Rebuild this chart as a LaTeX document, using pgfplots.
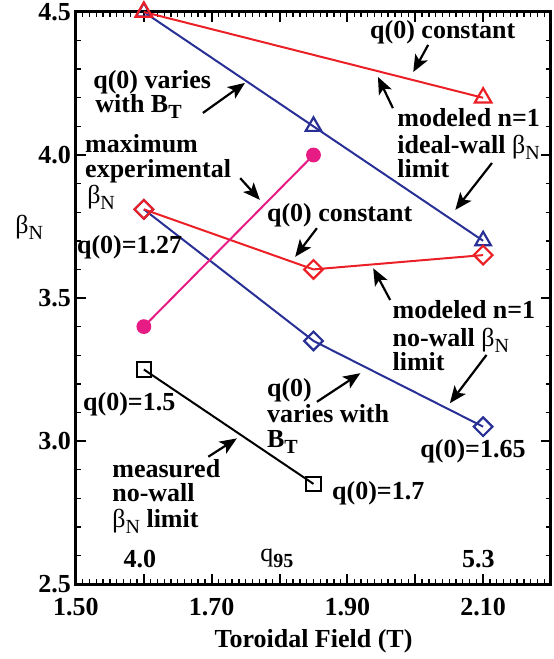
\documentclass[border=0pt]{standalone}
\usepackage{pgfplots}
\pgfplotsset{compat=1.18}
\usepackage{fontspec}
\setmainfont{Liberation Serif}
\usetikzlibrary{arrows.meta}
\definecolor{myred}{RGB}{235,32,38}
\definecolor{myblue}{RGB}{40,48,150}
\definecolor{mymag}{RGB}{230,28,132}
\newcommand{\sub}[1]{\raisebox{-3pt}{\fontsize{10}{10}\selectfont #1}}
\newcommand{\bN}{{\mdseries β}\sub{\mdseries N}}
\newcommand{\lf}{\fontsize{13}{13}\selectfont\bfseries}
\begin{document}
\begin{tikzpicture}[
  lab/.style={anchor=base west, inner sep=0pt, font=\lf},
  arr/.style={-{Stealth[length=8.5pt,width=7pt,inset=2pt]}, line width=1.1pt, black}]
\begin{axis}[
  scale only axis, width=237.5pt, height=286pt,
  xmin=1.5, xmax=2.2, ymin=2.5, ymax=4.5,
  xtick={1.5,1.6,1.7,1.8,1.9,2.0,2.1,2.2},
  xticklabels={1.50,,1.70,,1.90,,2.10,},
  minor x tick num=9,
  ytick={2.5,3.0,3.5,4.0,4.5},
  yticklabels={2.5,3.0,3.5,4.0,4.5},
  minor y tick num=4,
  tick align=inside,
  major tick length=5pt, minor tick length=2.5pt,
  axis line style={line width=1.5pt},
  major tick style={line width=1pt, black},
  minor tick style={line width=0.7pt, black},
  ticklabel style={font=\lf},
  xticklabel style={yshift=-3.5pt},
  yticklabel style={xshift=1pt},
  xlabel={Toroidal Field (T)},
  every axis x label/.style={at={(axis description cs:0.5,0)}, anchor=base, yshift=-31.5pt, font=\lf},
  clip=false,
]
% ideal-wall, q(0) varies
\addplot[myblue, line width=1pt, mark=triangle, mark size=4.5pt, mark options={line width=1.1pt}] coordinates {(1.6,4.5) (1.85,4.1) (2.1,3.7)};
% no-wall, q(0) varies
\addplot[myblue, line width=1pt, mark=square, mark size=3.3pt, mark options={rotate=45, line width=1.1pt}] coordinates {(1.6,3.81) (1.85,3.35) (2.1,3.05)};
% ideal-wall, q(0) constant
\addplot[myred, line width=1pt, mark=triangle, mark size=4.8pt, mark options={line width=1.1pt}] coordinates {(1.6,4.5) (2.1,4.2)};
% no-wall, q(0) constant
\addplot[myred, line width=1pt, mark=square, mark size=3.3pt, mark options={rotate=45, line width=1.1pt}] coordinates {(1.6,3.81) (1.85,3.6) (2.1,3.65)};
% maximum experimental
\addplot[mymag, line width=1pt, mark=*, mark size=3.2pt] coordinates {(1.6,3.4) (1.85,4.0)};
% measured no-wall
\addplot[black, line width=1pt, mark=square, mark size=3.6pt, mark options={line width=1.1pt}] coordinates {(1.6,3.25) (1.85,2.85)};

% annotations
\node[lab] at (axis cs:1.933,4.409) {q(0) constant};
\draw[arr] (axis cs:2.019,4.385) -- (axis cs:1.997,4.29);

\node[lab] at (axis cs:1.973,4.098) {modeled n=1};
\node[lab] at (axis cs:1.973,4.004) {ideal-wall \bN};
\node[lab] at (axis cs:1.973,3.920) {limit};
\draw[arr] (axis cs:1.967,4.164) -- (axis cs:1.945,4.273);
\draw[arr] (axis cs:2.113,3.972) -- (axis cs:2.059,3.808);

\node[lab] at (axis cs:1.525,4.234) {q(0) varies};
\node[lab] at (axis cs:1.528,4.147) {with B\sub{T}};
\draw[arr] (axis cs:1.687,4.147) -- (axis cs:1.749,4.252);

\node[lab] at (axis cs:1.513,4.010) {maximum};
\node[lab] at (axis cs:1.513,3.920) {experimental};
\node[lab] at (axis cs:1.516,3.832) {\bN};
\draw[arr] (axis cs:1.742,3.919) -- (axis cs:1.771,3.843);

\node[lab] at (axis cs:1.501,3.657) {q(0)=1.27};

\node[lab] at (axis cs:1.781,3.766) {q(0) constant};
\draw[arr] (axis cs:1.855,3.744) -- (axis cs:1.823,3.644);

\node[lab] at (axis cs:1.966,3.430) {modeled n=1};
\node[lab] at (axis cs:1.966,3.329) {no-wall \bN};
\node[lab] at (axis cs:1.966,3.248) {limit};
\draw[arr] (axis cs:1.963,3.493) -- (axis cs:1.938,3.604);
\draw[arr] (axis cs:2.105,3.301) -- (axis cs:2.051,3.132);

\node[lab] at (axis cs:2.007,2.944) {q(0)=1.65};

\node[lab] at (axis cs:1.781,3.154) {q(0)};
\node[lab] at (axis cs:1.781,3.066) {varies with};
\node[lab] at (axis cs:1.781,2.976) {B\sub{T}};
\draw[arr] (axis cs:1.855,3.137) -- (axis cs:1.919,3.237);

\node[lab] at (axis cs:1.510,3.108) {q(0)=1.5};

\node[lab] at (axis cs:1.553,2.874) {measured};
\node[lab] at (axis cs:1.553,2.787) {no-wall};
\node[lab] at (axis cs:1.553,2.699) {\bN{} limit};
\draw[arr] (axis cs:1.695,2.945) -- (axis cs:1.737,3.009);

\node[lab] at (axis cs:1.877,2.794) {q(0)=1.7};

\node[anchor=base, inner sep=0pt, font=\lf] at (axis cs:1.594,2.559) {4.0};
\node[lab] at (axis cs:1.771,2.577) {{\mdseries q}\sub{95}};
\node[anchor=base, inner sep=0pt, font=\lf] at (axis cs:2.093,2.559) {5.3};

\node[anchor=base, inner sep=0pt, font=\lf] at (axis cs:1.431,3.727) {\bN};
\end{axis}
\pgfresetboundingbox
\path[use as bounding box] ([xshift=-38pt,yshift=-37.5pt]current axis.south west) rectangle ([xshift=1.5pt,yshift=6pt]current axis.north east);
\end{tikzpicture}
\end{document}
